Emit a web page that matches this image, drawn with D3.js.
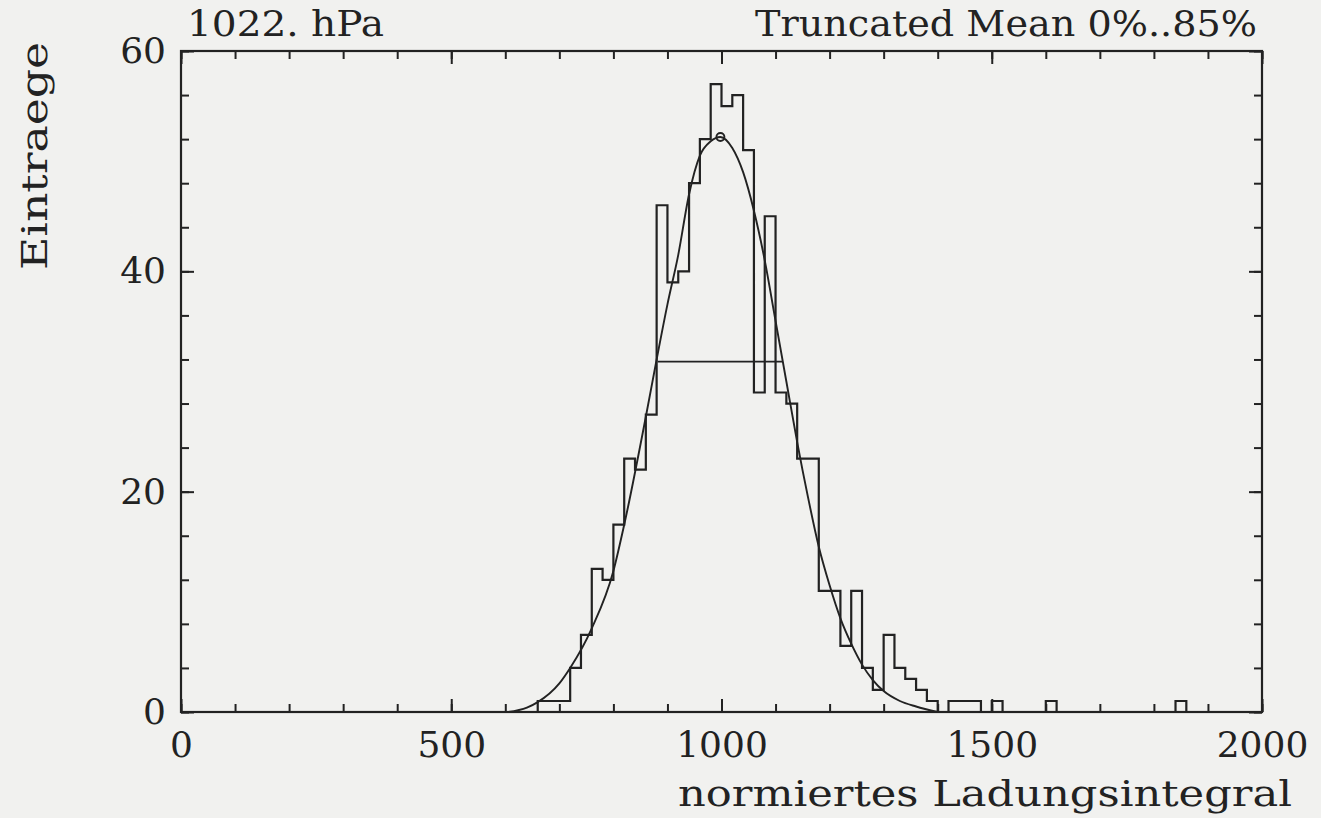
<!DOCTYPE html>
<html>
<head>
    <meta charset="utf-8">
    <style> body { margin: 0; background: #f1f1ef; } </style>
    <script src="https://d3js.org/d3.v7.min.js"></script>
</head>
<body>
    <div id="chart"></div>
    <script>

        // histogram: 20-wide bins starting at 600
        var binStart = 600,
            binWidth = 20;
        var counts = [
            0, 0, 0, 1, 1, 1, 4, 7, 13, 12,
            17, 23, 22, 27, 46, 39, 40, 48, 52, 57,
            55, 56, 51, 29, 45, 29, 28, 23, 23, 11,
            11, 6, 11, 4, 2, 7, 4, 3, 2, 1,
            0, 1, 1, 1, 0, 1, 0, 0, 0, 0,
            1, 0, 0, 0, 0, 0, 0, 0, 0, 0,
            0, 0, 1, 0
        ];

        // fitted curve
        var fitX = [605, 640, 660, 700, 720, 760, 800, 820, 860, 880, 900, 920, 940, 960, 980, 998,
                    1020, 1040, 1060, 1080, 1100, 1120, 1140, 1160, 1180, 1200, 1220, 1240, 1260,
                    1280, 1300, 1330, 1360, 1400];
        var fitY = [0, 0.4, 0.9, 2.6, 4, 7.6, 12.8, 17, 26.8, 32, 37, 41.5, 47, 50.5, 51.8, 52.2,
                    51.2, 49, 45.5, 41, 35.5, 30, 24.5, 19.5, 15, 11.5, 8.5, 6.2, 4.3,
                    2.9, 1.9, 1.0, 0.5, 0];

        var peak = [998, 52.2];
        var sigmaBar = [882, 1113, 31.8];

        var xTicks = [0, 500, 1000, 1500, 2000];
        var yTicks = [0, 20, 40, 60];

        var W = 1321, H = 818;
        var ink = "#222";
        var font = "'DejaVu Serif', serif";

        var svg = d3.select("#chart").append("svg")
            .attr("width", W)
            .attr("height", H);

        var x = d3.scaleLinear().domain([0, 2000]).range([181, 1262]);
        var y = d3.scaleLinear().domain([0, 60]).range([712, 51]);

        var xMinor = d3.range(0, 2001, 100),
            yMinor = d3.range(0, 61, 4);

        // ticks point inwards on all four sides
        function ticks(axis, tx, values, len) {
            svg.append("g")
                .attr("transform", tx)
                .call(axis.tickValues(values).tickSize(len).tickFormat(""))
                .call(g => g.select(".domain").remove())
                .selectAll("line")
                .attr("stroke", ink)
                .attr("stroke-width", 2);
        }
        ticks(d3.axisBottom(x), "translate(0," + y(0) + ")", xMinor, -8);
        ticks(d3.axisBottom(x), "translate(0," + y(0) + ")", xTicks, -13);
        ticks(d3.axisTop(x), "translate(0," + y(60) + ")", xMinor, -8);
        ticks(d3.axisTop(x), "translate(0," + y(60) + ")", xTicks, -13);
        ticks(d3.axisLeft(y), "translate(" + x(0) + ",0)", yMinor, -8);
        ticks(d3.axisLeft(y), "translate(" + x(0) + ",0)", yTicks, -13);
        ticks(d3.axisRight(y), "translate(" + x(2000) + ",0)", yMinor, -8);
        ticks(d3.axisRight(y), "translate(" + x(2000) + ",0)", yTicks, -13);

        svg.append("rect")
            .attr("x", x(0))
            .attr("y", y(60))
            .attr("width", x(2000) - x(0))
            .attr("height", y(0) - y(60))
            .attr("fill", "none")
            .attr("stroke", ink)
            .attr("stroke-width", 2.2);

        // tick labels
        var xl = svg.append("g")
            .attr("transform", "translate(0," + y(0) + ")")
            .call(d3.axisBottom(x).tickValues(xTicks).tickFormat(d3.format("d")).tickSize(0).tickPadding(19));
        var yl = svg.append("g")
            .attr("transform", "translate(" + x(0) + ",0)")
            .call(d3.axisLeft(y).tickValues(yTicks).tickFormat(d3.format("d")).tickSize(0).tickPadding(15));
        [xl, yl].forEach(g => {
            g.select(".domain").remove();
            g.selectAll("text")
                .attr("font-family", font)
                .attr("font-size", 36)
                .attr("fill", ink);
        });

        // histogram outline
        var step = [];
        counts.forEach(function(c, i) {
            var lo = binStart + i * binWidth;
            step.push([lo, c], [lo + binWidth, c]);
        });
        step.unshift([binStart, 0]);
        step.push([binStart + counts.length * binWidth, 0]);

        svg.append("path")
            .datum(step)
            .attr("fill", "none")
            .attr("stroke", ink)
            .attr("stroke-width", 2.2)
            .attr("d", d3.line().x(d => x(d[0])).y(d => y(d[1])));

        // fit
        svg.append("path")
            .datum(fitX.map((v, i) => [v, fitY[i]]))
            .attr("fill", "none")
            .attr("stroke", ink)
            .attr("stroke-width", 1.9)
            .attr("d", d3.line().curve(d3.curveMonotoneX).x(d => x(d[0])).y(d => y(d[1])));

        svg.append("line")
            .attr("x1", x(sigmaBar[0]))
            .attr("x2", x(sigmaBar[1]))
            .attr("y1", y(sigmaBar[2]))
            .attr("y2", y(sigmaBar[2]))
            .attr("stroke", ink)
            .attr("stroke-width", 1.9);

        svg.append("circle")
            .attr("cx", x(peak[0]))
            .attr("cy", y(peak[1]))
            .attr("r", 4)
            .attr("fill", "none")
            .attr("stroke", ink)
            .attr("stroke-width", 1.9);

        // titles
        function label(t, px, py, anchor, len, rot) {
            var el = svg.append("text")
                .attr("x", px)
                .attr("y", py)
                .attr("text-anchor", anchor)
                .attr("font-family", font)
                .attr("font-size", 35)
                .attr("fill", ink)
                .attr("textLength", len)
                .attr("lengthAdjust", "spacingAndGlyphs")
                .text(t);
            if (rot) el.attr("transform", "rotate(-90," + px + "," + py + ")");
        }
        label("1022. hPa", 187, 36, "start", 197);
        label("Truncated Mean 0%..85%", 755, 36, "start", 502);
        label("normiertes Ladungsintegral", 678, 806, "start", 614);
        label("Eintraege", 47, 156, "middle", 228, true);

    </script>
</body>
</html>
